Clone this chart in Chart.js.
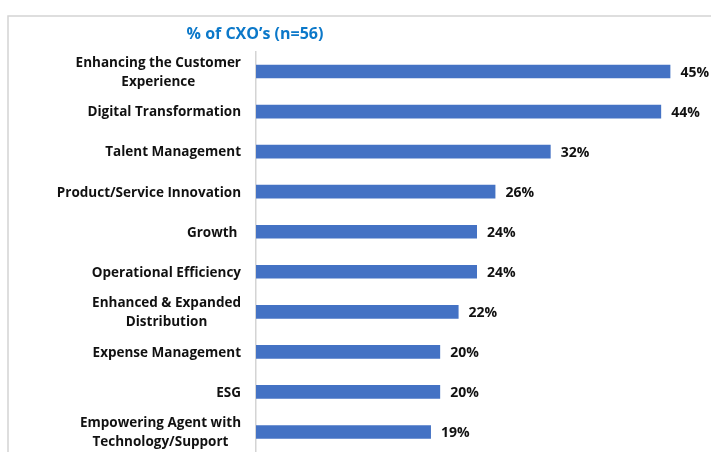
<!DOCTYPE html>
<html>
<head>
<meta charset="utf-8">
<script src="https://cdn.jsdelivr.net/npm/chart.js@4/dist/chart.umd.min.js"></script>
<style>
  html, body { margin: 0; padding: 0; background: #fff; }
  #wrap { width: 711px; height: 452px; position: relative; }
</style>
</head>
<body>
<div id="wrap"><canvas id="barChart"></canvas></div>
<script>
const categories = [
  ['Enhancing the Customer', 'Experience'],
  ['Digital Transformation'],
  ['Talent Management'],
  ['Product/Service Innovation'],
  ['Growth '],
  ['Operational Efficiency'],
  ['Enhanced & Expanded', 'Distribution'],
  ['Expense Management'],
  ['ESG'],
  ['Empowering Agent with', 'Technology/Support']
];
const values = [45, 44, 32, 26, 24, 24, 22, 20, 20, 19];
const chartTitle = '% of CXO\u2019s (n=56)';

const labelFont = 'bold 13.5px "Open Sans", sans-serif';
const valueFont = 'bold 14px "Open Sans", sans-serif';

// frame, title, category labels and value labels
const decorations = {
  id: 'decorations',
  beforeDraw(chart) {
    const c = chart.ctx;
    c.save();
    c.strokeStyle = '#d4d4d4';
    c.lineWidth = 1.5;
    c.beginPath();
    c.moveTo(8, 460);
    c.lineTo(8, 16);
    c.lineTo(720, 16);
    c.stroke();
    c.restore();
  },
  afterDraw(chart) {
    const c = chart.ctx;
    const y = chart.scales.y;
    c.save();
    c.font = 'bold 16px "Open Sans", sans-serif';
    c.fillStyle = '#0b78c9';
    c.textAlign = 'center';
    c.textBaseline = 'middle';
    c.fillText(chartTitle, 255, 34);

    c.font = labelFont;
    c.fillStyle = '#111';
    const right = chart.chartArea.left - 15;
    const lh = 19;
    categories.forEach((lines, i) => {
      const py = y.getPixelForValue(i) + 1;
      const w = Math.max(...lines.map(l => c.measureText(l).width));
      const cx = right - w / 2;
      lines.forEach((l, j) => {
        c.fillText(l, cx, py + (j - (lines.length - 1) / 2) * lh);
      });
    });

    const meta = chart.getDatasetMeta(0);
    c.font = valueFont;
    c.textAlign = 'left';
    meta.data.forEach((bar, i) => {
      c.fillText(values[i] + '%', bar.x + 10, bar.y + 1.5);
    });
    c.restore();
  }
};

const ctx = document.getElementById('barChart').getContext('2d');
new Chart(ctx, {
  type: 'bar',
  data: {
    labels: categories,
    datasets: [
      {
        data: values,
        backgroundColor: '#4472C4',
        borderWidth: 0,
        categoryPercentage: 1,
        barPercentage: 0.34,
      },
    ],
  },
  options: {
    indexAxis: 'y',
    responsive: true,
    maintainAspectRatio: false,
    animation: false,
    layout: {
      padding: { left: 256, right: 13, top: 51.5, bottom: 0 },
    },
    scales: {
      x: {
        display: false,
        min: 0,
        max: 48,
      },
      y: {
        grid: { display: false, drawTicks: false },
        border: { display: true, color: '#d4d4d4', width: 1.5 },
        ticks: { display: false },
      },
    },
    plugins: {
      legend: { display: false },
      tooltip: { enabled: false },
    },
  },
  plugins: [decorations],
});
</script>
</body>
</html>
